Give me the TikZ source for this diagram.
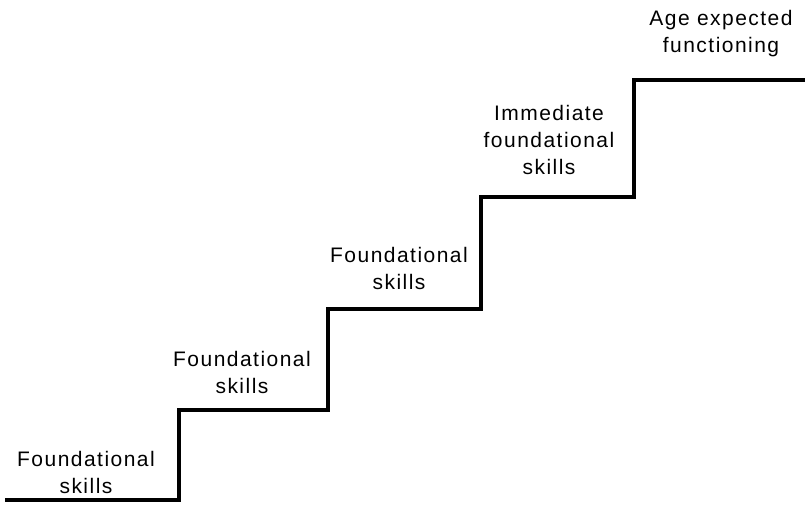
\documentclass[tikz,border=0pt]{standalone}
\usepackage{fontspec}
\setmainfont{Liberation Sans}[LetterSpace=7]
\begin{document}
\begin{tikzpicture}[x=1pt,y=-1pt,
  lbl/.style={align=center,inner sep=0pt,font=\fontsize{21}{27}\selectfont},
  stair/.style={line width=3.5pt,line join=miter,line cap=butt}]
\useasboundingbox (0,0) rectangle (805,509);
\coordinate (s0) at (5,500);
\coordinate (s1) at (179,500);
\coordinate (s2) at (179,410);
\coordinate (s3) at (328,410);
\coordinate (s4) at (328,309);
\coordinate (s5) at (481,309);
\coordinate (s6) at (481,197);
\coordinate (s7) at (634,197);
\coordinate (s8) at (634,80);
\coordinate (s9) at (805,80);
\draw[stair] (s0) -- (s1) -- (s2) -- (s3) -- (s4) -- (s5) -- (s6) -- (s7) -- (s8) -- (s9);
\node[lbl] (t1) at (86,472) {Foundational\\skills};
\node[lbl] (t2) at (242,372) {Foundational\\skills};
\node[lbl] (t3) at (399,268) {Foundational\\skills};
\node[lbl] (t4) at (549,140) {Immediate\\foundational\\skills};
\node[lbl] (t5) at (721,34) {Age expected\\functioning};
\end{tikzpicture}
\end{document}
